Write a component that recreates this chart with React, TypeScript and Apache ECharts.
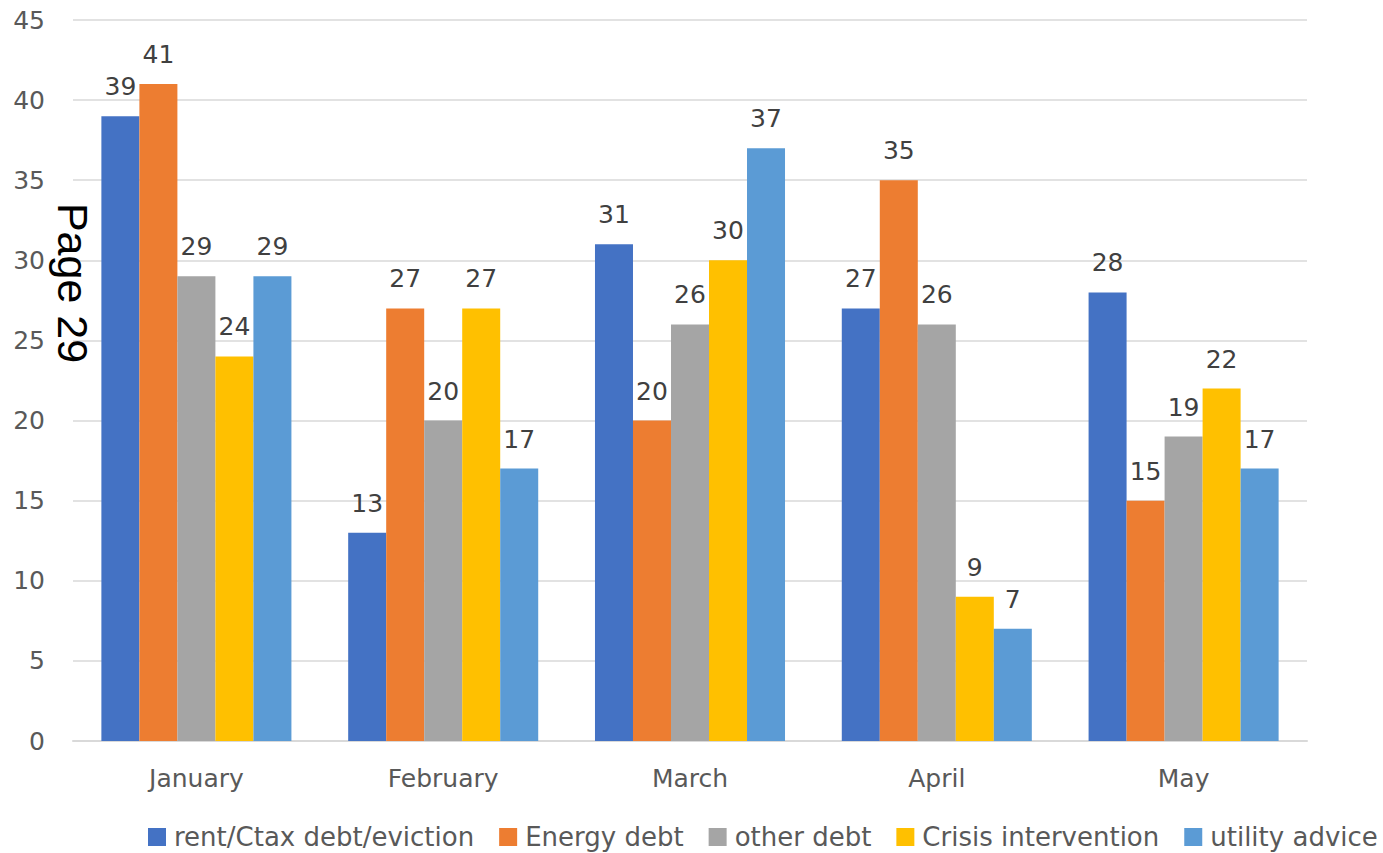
import React, { useEffect, useRef } from "react";
import * as echarts from "echarts";

const categories = ["January", "February", "March", "April", "May"];
const seriesNames = [
  "rent/Ctax debt/eviction",
  "Energy debt",
  "other debt",
  "Crisis intervention",
  "utility advice",
];
const rentCtax = [39, 13, 31, 27, 28];
const energyDebt = [41, 27, 20, 35, 15];
const otherDebt = [29, 20, 26, 26, 19];
const crisis = [24, 27, 30, 9, 22];
const utilityAdvice = [29, 17, 37, 7, 17];
const colors = ["#4472C4", "#ED7D31", "#A5A5A5", "#FFC000", "#5B9BD5"];
const yTicks = { min: 0, max: 45, interval: 5 };

const FONT = "DejaVu Sans";

export default function App() {
  const ref = useRef<HTMLDivElement>(null);
  useEffect(() => {
    if (!ref.current) return;
    const chart = echarts.init(ref.current, null, { renderer: "svg" });
    const data = [rentCtax, energyDebt, otherDebt, crisis, utilityAdvice];
    chart.setOption({
      animation: false,
      color: colors,
      textStyle: { fontFamily: FONT },
      grid: { left: 73, right: 76, top: 20, bottom: 112, containLabel: false },
      legend: {
        left: 148,
        top: 824,
        width: 1260,
        padding: 0,
        itemWidth: 18,
        itemHeight: 18,
        itemGap: 25,
        icon: "rect",
        textStyle: { fontFamily: FONT, fontSize: 26, color: "#595959", padding: [0, 0, 0, 3] },
        data: seriesNames,
      },
      xAxis: {
        type: "category",
        data: categories,
        axisLine: { lineStyle: { color: "#d9d9d9", width: 2 } },
        axisTick: { show: false },
        axisLabel: { fontFamily: FONT, fontSize: 25, color: "#595959", margin: 25 },
      },
      yAxis: {
        type: "value",
        min: yTicks.min,
        max: yTicks.max,
        interval: yTicks.interval,
        axisLine: { show: false },
        axisTick: { show: false },
        splitLine: { lineStyle: { color: "#d9d9d9", width: 1.5 } },
        axisLabel: { fontFamily: FONT, fontSize: 25, color: "#595959", margin: 28 },
      },
      series: seriesNames.map((name, i) => ({
        name,
        type: "bar",
        data: data[i],
        barGap: "0%",
        barCategoryGap: "23%",
        label: {
          show: true,
          position: "top",
          distance: 17,
          fontFamily: FONT,
          fontSize: 25,
          color: "#404040",
        },
      })),
      graphic: [
        {
          type: "text",
          x: 73,
          y: 283,
          rotation: -Math.PI / 2,
          z: 100,
          style: {
            text: "Page 29",
            fontFamily: "Liberation Sans",
            fontSize: 43,
            fill: "#000000",
            textAlign: "center",
            textVerticalAlign: "middle",
          },
        },
      ],
    });
    return () => chart.dispose();
  }, []);
  return (
    <div
      ref={ref}
      style={{ position: "fixed", left: 0, top: 0, width: 1383, height: 853, background: "#fff" }}
    />
  );
}
